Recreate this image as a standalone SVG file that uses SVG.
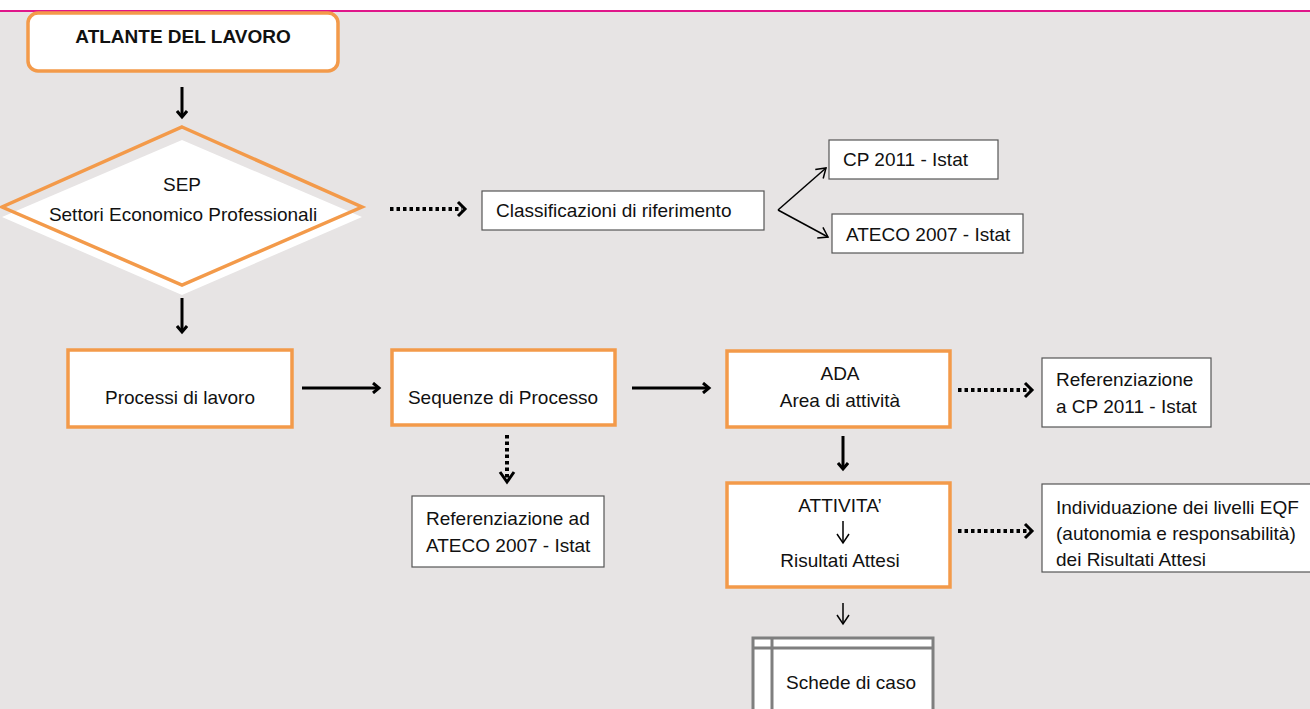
<svg xmlns="http://www.w3.org/2000/svg" width="1310" height="709" viewBox="0 0 1310 709">
<style>
.t{font-family:"Liberation Sans",Arial,sans-serif;font-size:19px;fill:#111}
.c{text-anchor:middle}
.ob{fill:#fff;stroke:#f39a4a;stroke-width:3.5}
.wb{fill:#fff;stroke:#555;stroke-width:1.2}
.ar{stroke:#000;stroke-width:3;fill:none}
.dt{stroke:#000;stroke-width:4;fill:none;stroke-dasharray:3.5 3}
.th{stroke:#000;stroke-width:1.5;fill:none}
</style>
<defs>
<marker id="h" markerWidth="10" markerHeight="12" refX="7" refY="6" orient="auto" markerUnits="userSpaceOnUse">
<path d="M1,1 L7,6 L1,11" fill="none" stroke="#000" stroke-width="3"/>
</marker>
<marker id="hs" markerWidth="12" markerHeight="14" refX="10" refY="7" orient="auto" markerUnits="userSpaceOnUse">
<path d="M1,1 L10,7 L1,13" fill="none" stroke="#000" stroke-width="1.5"/>
</marker>
</defs>
<rect x="0" y="0" width="1310" height="709" fill="#e7e4e4"/>
<rect x="0" y="0" width="1310" height="10" fill="#fff"/>
<line x1="0" y1="11" x2="1310" y2="11" stroke="#e0168a" stroke-width="2"/>

<g id="atlante">
<rect class="ob" x="28" y="13" width="310" height="58" rx="10"/>
<text class="t c" x="183" y="43" font-weight="bold" font-size="18.5">ATLANTE DEL LAVORO</text>
</g>
<g id="sep">
<path d="M182,140 L362,217 L182,295 L2,217 Z" fill="#fff"/>
<path d="M182,127 L362,207 L182,285 L2,207 Z" fill="none" stroke="#f39a4a" stroke-width="3.5"/>
<text class="t c" x="182" y="191">SEP</text>
<text class="t c" x="183" y="221">Settori Economico Professionali</text>
</g>
<g id="classificazioni">
<rect class="wb" x="482" y="191" width="282" height="39"/>
<text class="t" x="496" y="217">Classificazioni di riferimento</text>
</g>
<g id="cp2011">
<rect class="wb" x="829" y="140" width="169" height="39"/>
<text class="t" x="843" y="166">CP 2011 - Istat</text>
</g>
<g id="ateco2007">
<rect class="wb" x="832" y="214" width="191" height="39"/>
<text class="t" x="846" y="241">ATECO 2007 - Istat</text>
</g>
<g id="processi">
<rect class="ob" x="68" y="350" width="224" height="77"/>
<text class="t c" x="180" y="404">Processi di lavoro</text>
</g>
<g id="sequenze">
<rect class="ob" x="392" y="350" width="223" height="75"/>
<text class="t c" x="503" y="404">Sequenze di Processo</text>
</g>
<g id="ada">
<rect class="ob" x="727" y="351" width="223" height="76"/>
<text class="t c" x="840" y="380">ADA</text>
<text class="t c" x="840" y="407">Area di attività</text>
</g>
<g id="ref-cp">
<rect class="wb" x="1042" y="358" width="169" height="69"/>
<text class="t" x="1056" y="386">Referenziazione</text>
<text class="t" x="1056" y="413">a CP 2011 - Istat</text>
</g>
<g id="ref-ateco">
<rect class="wb" x="412" y="496" width="192" height="71"/>
<text class="t" x="426" y="525">Referenziazione  ad</text>
<text class="t" x="426" y="552">ATECO 2007 - Istat</text>
</g>
<g id="attivita">
<rect class="ob" x="727" y="483" width="223" height="104"/>
<text class="t c" x="840" y="512">ATTIVITA’</text>
<line class="th" x1="843" y1="521" x2="843" y2="543" marker-end="url(#hs)"/>
<text class="t c" x="840" y="567">Risultati Attesi</text>
</g>
<g id="eqf">
<rect class="wb" x="1042" y="484" width="275" height="88"/>
<text class="t" x="1056" y="514">Individuazione dei livelli EQF</text>
<text class="t" x="1056" y="540">(autonomia e responsabilità)</text>
<text class="t" x="1056" y="566">dei Risultati Attesi</text>
</g>
<g id="schede">
<rect x="753" y="638" width="180" height="80" fill="#fff" stroke="#7f7f7f" stroke-width="3"/>
<line x1="753" y1="648" x2="933" y2="648" stroke="#7f7f7f" stroke-width="3"/>
<line x1="772" y1="638" x2="772" y2="709" stroke="#7f7f7f" stroke-width="3"/>
<text class="t c" x="851" y="689">Schede di caso</text>
</g>

<g id="connectors">
<line class="ar" x1="182" y1="87" x2="182" y2="117" marker-end="url(#h)"/>
<line class="ar" x1="182" y1="298" x2="182" y2="332" marker-end="url(#h)"/>
<line class="dt" x1="390" y1="209" x2="462" y2="209"/>
<path d="M458,202 L465,209 L458,216" class="ar" stroke-width="3.5"/>
<line class="th" x1="778" y1="210" x2="826" y2="168" marker-end="url(#hs)"/>
<line class="th" x1="778" y1="210" x2="828" y2="237" marker-end="url(#hs)"/>
<line class="ar" x1="302" y1="388" x2="379" y2="388" marker-end="url(#h)"/>
<line class="ar" x1="632" y1="388" x2="709" y2="388" marker-end="url(#h)"/>
<line class="dt" x1="958" y1="390" x2="1030" y2="390"/>
<path d="M1025,383 L1032,390 L1025,397" class="ar" stroke-width="3.5"/>
<line class="dt" x1="507" y1="435" x2="507" y2="480"/>
<path d="M500,472 L507,482 L514,472" class="ar" stroke-width="3"/>
<line class="ar" x1="843" y1="436" x2="843" y2="469" marker-end="url(#h)"/>
<line class="dt" x1="958" y1="531" x2="1030" y2="531"/>
<path d="M1025,524 L1032,531 L1025,538" class="ar" stroke-width="3.5"/>
<line class="th" x1="843" y1="603" x2="843" y2="624" marker-end="url(#hs)"/>
</g>
</svg>
